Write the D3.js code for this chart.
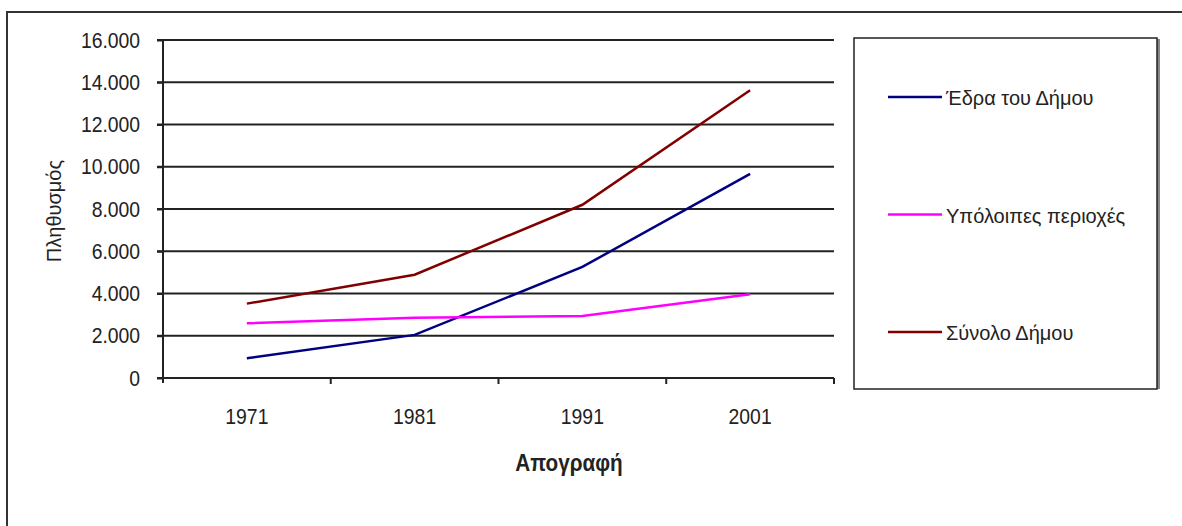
<!DOCTYPE html>
<html>
<head>
<meta charset="utf-8">
<script src="https://cdn.jsdelivr.net/npm/d3@7"></script>
<style>
  body { margin: 0; background: #fff; }
  text { font-family: "Liberation Sans", Arial, sans-serif; fill: #222; }
</style>
</head>
<body>
<svg id="chart" width="1182" height="526"></svg>
<script>
// census years and population per series
const years = ["1971", "1981", "1991", "2001"];
const seat_values = [930, 2040, 5260, 9660];
const rest_values = [2590, 2850, 2940, 3960];
const total_values = [3520, 4890, 8200, 13620];
const series_names = ["Έδρα του Δήμου", "Υπόλοιπες περιοχές", "Σύνολο Δήμου"];
const y_ticks = [0, 2000, 4000, 6000, 8000, 10000, 12000, 14000, 16000];

let PLOT_LEFT = 163, PLOT_RIGHT = 834, PLOT_TOP = 40, PLOT_BOTTOM = 378;
let COLORS = ["#000080", "#ff00ff", "#800000"];

let series = [seat_values, rest_values, total_values].map((vals, i) => ({
    name: series_names[i],
    color: COLORS[i],
    points: years.map((y, j) => ({ year: y, value: vals[j] }))
}));

let svg = d3.select('#chart');

// outer frame (runs off the right and bottom of the picture)
svg.append('rect')
    .attr('x', 7).attr('y', 12)
    .attr('width', 1300).attr('height', 700)
    .attr('fill', '#fff')
    .attr('stroke', '#333')
    .attr('stroke-width', 2);

let xScale = d3.scaleBand()
    .domain(years)
    .range([PLOT_LEFT, PLOT_RIGHT])
    .padding(0);

let yScale = d3.scaleLinear()
    .domain([0, 16000])
    .range([PLOT_BOTTOM, PLOT_TOP]);

// greek number format: 16.000
let fmt = d3.formatLocale({ decimal: ",", thousands: ".", grouping: [3], currency: ["", "€"] }).format(",d");

// gridlines
svg.append('g')
    .selectAll('line')
    .data(y_ticks.filter(d => d > 0))
    .join('line')
    .attr('x1', PLOT_LEFT - 6)
    .attr('x2', PLOT_RIGHT)
    .attr('y1', d => yScale(d))
    .attr('y2', d => yScale(d))
    .attr('stroke', '#222')
    .attr('stroke-width', 2);

// y axis
let yAxis = svg.append('g')
    .attr('transform', `translate(${PLOT_LEFT},0)`)
    .call(d3.axisLeft(yScale).tickValues(y_ticks).tickFormat(fmt).tickSize(6).tickSizeOuter(0));
yAxis.select('.domain').attr('stroke', '#222').attr('stroke-width', 2)
    .attr('d', `M0,${PLOT_TOP}V${PLOT_BOTTOM + 5}`);
yAxis.selectAll('.tick line').attr('stroke', '#222').attr('stroke-width', 2);
yAxis.selectAll('.tick text')
    .attr('x', -26)
    .attr('font-size', 22)
    .attr('transform', 'scale(0.88,1)')
    .attr('fill', '#222');

// x axis
let xAxis = svg.append('g')
    .attr('transform', `translate(0,${PLOT_BOTTOM})`)
    .call(d3.axisBottom(xScale).tickSize(0).tickSizeOuter(0));
xAxis.select('.domain').attr('stroke', '#222').attr('stroke-width', 2)
    .attr('d', `M${PLOT_LEFT - 6},0H${PLOT_RIGHT}`);
xAxis.selectAll('.tick text')
    .attr('y', 46)
    .attr('dy', 0)
    .attr('font-size', 22)
    .attr('transform', 'scale(0.88,1)')
    .attr('fill', '#222');

// tick marks sit on the band edges
let edges = years.map(d => xScale(d)).concat([xScale.range()[1]]);
xAxis.append('g')
    .selectAll('line')
    .data(edges.slice(1))
    .join('line')
    .attr('x1', d => d).attr('x2', d => d)
    .attr('y1', 0).attr('y2', 6)
    .attr('stroke', '#222')
    .attr('stroke-width', 2);

// axis titles
svg.append('text')
    .attr('transform', 'translate(569,471) scale(0.9,1)')
    .attr('text-anchor', 'middle')
    .attr('font-size', 23)
    .attr('font-weight', 'bold')
    .text('Απογραφή');

svg.append('text')
    .attr('transform', 'translate(61,211) rotate(-90)')
    .attr('text-anchor', 'middle')
    .attr('font-size', 20)
    .text('Πληθυσμός');

// lines
let line = d3.line()
    .x(d => xScale(d.year) + xScale.bandwidth() / 2)
    .y(d => yScale(d.value));

svg.append('g')
    .selectAll('path')
    .data(series)
    .join('path')
    .attr('d', d => line(d.points))
    .attr('fill', 'none')
    .attr('stroke', d => d.color)
    .attr('stroke-width', 2.5);

// legend box, thin shadow on the right
let legend = svg.append('g');
legend.append('rect')
    .attr('x', 1157).attr('y', 39)
    .attr('width', 3).attr('height', 350)
    .attr('fill', '#888');
legend.append('rect')
    .attr('x', 854).attr('y', 38)
    .attr('width', 303).attr('height', 351)
    .attr('fill', '#fff')
    .attr('stroke', '#222')
    .attr('stroke-width', 1.5);

let legendY = d3.scalePoint()
    .domain(series_names)
    .range([97, 332]);

let items = legend.selectAll('g.item')
    .data(series)
    .join('g')
    .attr('class', 'item')
    .attr('transform', d => `translate(888,${legendY(d.name)})`);
items.append('line')
    .attr('x1', 0).attr('x2', 54)
    .attr('stroke', d => d.color)
    .attr('stroke-width', 2.5);
items.append('text')
    .attr('x', 58)
    .attr('y', 8)
    .attr('font-size', 20)
    .text(d => d.name);
</script>
</body>
</html>
